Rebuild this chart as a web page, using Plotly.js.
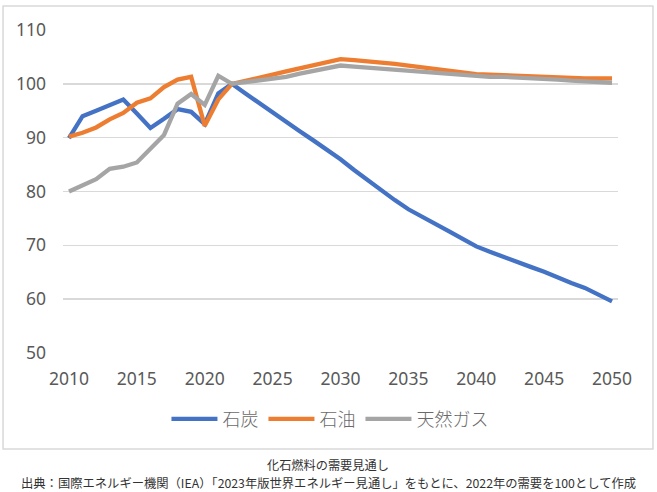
<!DOCTYPE html>
<html>
<head>
<meta charset="utf-8">
<script src="https://cdn.plot.ly/plotly-3.0.1.min.js"></script>
<style>html,body{margin:0;padding:0;background:#fff;}#chart{width:657px;height:492px;}</style>
</head>
<body>
<div id="chart"></div>
<script>
var years = [];
for (var y = 2010; y <= 2050; y++) years.push(y);

var coal = [89.9, 94.0, 95.0, 96.1, 97.1, 94.5, 91.8, 93.5, 95.3, 94.8, 92.5, 98.2, 100.0,
  98.2, 96.4, 94.7, 93.0, 91.2, 89.5, 87.8, 86.0, 84.0, 82.1, 80.2, 78.4, 76.7,
  75.4, 73.9, 72.6, 71.2, 69.8, 68.8, 67.8, 66.9, 66.0, 65.1, 64.0, 63.0, 62.1, 60.9, 59.6];
var oil = [90.2, 90.9, 91.9, 93.4, 94.6, 96.5, 97.3, 99.4, 100.8, 101.3, 92.2, 97.1, 100.0,
  100.5, 101.1, 101.7, 102.3, 102.9, 103.6, 104.1, 104.6, 104.4, 104.2, 103.9, 103.7, 103.4,
  103.1, 102.8, 102.5, 102.1, 101.8, 101.7, 101.6, 101.4, 101.3, 101.2, 101.1, 101.1, 101.0, 101.0, 101.0];
var gas = [80.0, 81.2, 82.3, 84.2, 84.6, 85.4, 88.0, 90.5, 96.3, 98.1, 96.1, 101.5, 100.0,
  100.3, 100.6, 100.9, 101.3, 101.9, 102.4, 103.0, 103.4, 103.2, 103.0, 102.8, 102.6, 102.3,
  102.1, 101.9, 101.7, 101.6, 101.4, 101.3, 101.3, 101.2, 101.1, 101.0, 100.8, 100.6, 100.5, 100.4, 100.2];

var seriesNames = ['石炭', '石油', '天然ガス'];
var seriesColors = ['#4472C4', '#ED7D31', '#A5A5A5'];
var xTicks = [2010, 2015, 2020, 2025, 2030, 2035, 2040, 2045, 2050];
var yTicks = [50, 60, 70, 80, 90, 100, 110];
var captionTitle = '化石燃料の需要見通し';
var captionSource = '出典：国際エネルギー機関（IEA）「2023年版世界エネルギー見通し」をもとに、2022年の需要を100として作成';

var allSeries = [coal, oil, gas];
var traces = allSeries.map(function (vals, i) {
  return {
    x: years, y: vals, type: 'scatter', mode: 'lines', name: seriesNames[i],
    line: {color: seriesColors[i], width: 4.3}, hoverinfo: 'skip'
  };
});

var font = 'Noto Sans, Noto Sans CJK JP, sans-serif';
var layout = {
  width: 657, height: 492,
  margin: {l: 63, r: 39, t: 30, b: 139},
  paper_bgcolor: '#fff', plot_bgcolor: '#fff',
  font: {family: font, color: '#595959'},
  showlegend: true,
  legend: {
    orientation: 'h', x: 0.481, xanchor: 'center', y: -0.205, yanchor: 'middle',
    font: {size: 18, color: '#6a6a6a', family: 'Noto Sans CJK JP, sans-serif', weight: 300},
    itemwidth: 46, traceorder: 'normal'
  },
  xaxis: {
    range: [2009.56, 2050.44], tickvals: xTicks, ticktext: xTicks.map(String),
    showgrid: false, zeroline: false, showline: false, ticks: '',
    tickfont: {size: 17.5, color: '#595959'}, ticklabelstandoff: 13
  },
  yaxis: {
    range: [50, 110], tickvals: yTicks, ticktext: yTicks.map(String),
    showgrid: true, gridcolor: '#d9d9d9', gridwidth: 1.5, zeroline: false, showline: false, ticks: '',
    tickfont: {size: 17.5, color: '#595959'}, ticklabelstandoff: 16
  },
  shapes: [{
    type: 'rect', xref: 'paper', yref: 'paper',
    x0: -0.108, x1: 1.063, y0: -0.297, y1: 1.0743,
    line: {color: '#d9d9d9', width: 1.5}, fillcolor: 'rgba(0,0,0,0)', layer: 'below'
  }],
  annotations: [
    {text: captionTitle, xref: 'paper', yref: 'paper', x: 0.478, y: -0.3467, xanchor: 'center', yanchor: 'middle',
     showarrow: false, font: {size: 12.2, color: '#333', family: 'Noto Sans CJK JP, sans-serif'}},
    {text: captionSource, xref: 'paper', yref: 'paper', x: 0.478, y: -0.4025, xanchor: 'center', yanchor: 'middle',
     showarrow: false, font: {size: 12.3, color: '#333', family: 'Noto Sans CJK JP, sans-serif'}}
  ]
};

Plotly.newPlot('chart', traces, layout, {displayModeBar: false, staticPlot: true});
</script>
</body>
</html>
